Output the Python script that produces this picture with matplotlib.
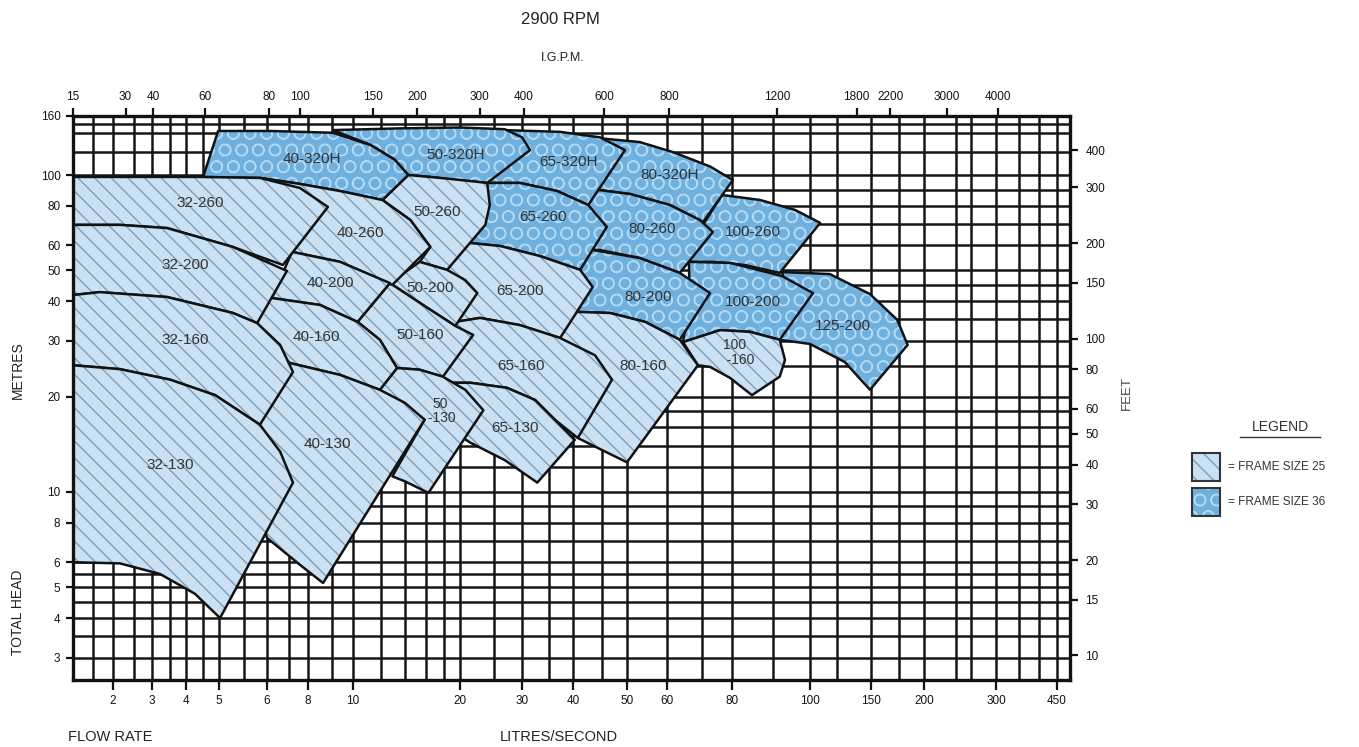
import numpy as np
import matplotlib
matplotlib.use("Agg")
import matplotlib.pyplot as plt
from matplotlib.patches import Polygon, Rectangle
from matplotlib.lines import Line2D

plt.rcParams.update({
    "font.family": ["Liberation Sans", "DejaVu Sans"],
    "hatch.linewidth": 1.0,
})

# ---- pump coverage areas: flow (L/s) and head (m) around each outline ----
P125_200_Q = [92.3, 114, 149, 173, 183, 149, 126, 100, 91.7, 94.4]
P125_200_H = [49.4, 48.7, 42.1, 34.9, 29.1, 21.0, 25.7, 29.3, 30.2, 40.3]
P100_260_Q = [76.5, 86.7, 95.8, 107, 91.7, 83.0, 74.2, 66.1, 69.4]
P100_260_H = [86.5, 83.4, 77.6, 70.6, 49.1, 52.0, 53.2, 53.2, 67.1]
P100_200_Q = [66.1, 79.3, 92.3, 102, 91.7, 84.2, 75.9, 64.4, 66.4]
P100_200_H = [53.2, 52.8, 48.0, 42.4, 30.2, 32.0, 32.4, 29.7, 40.3]
P100_160_Q = [64.4, 75.9, 84.2, 91.7, 93.1, 91.7, 84.7, 79.3, 72.6, 68.8]
P100_160_H = [29.7, 32.4, 32.0, 30.2, 26.1, 23.1, 20.2, 22.9, 24.8, 25.1]
P80_320H_Q = [42.9, 53.0, 61.6, 72.6, 80.2, 70.4, 60.8, 50.7, 44.4]
P80_320H_H = [135, 130, 120, 107, 96.4, 71.1, 80.4, 87.1, 89.7]
P80_260_Q = [44.4, 50.7, 60.8, 69.4, 73.5, 63.5, 53.0, 44.7, 40.3, 40.3]
P80_260_H = [89.7, 87.1, 80.4, 72.1, 66.1, 49.1, 54.7, 58.0, 58.0, 83.4]
P80_200_Q = [43.4, 53.0, 63.5, 72.6, 63.5, 54.3, 46.6, 40.3, 40.3]
P80_200_H = [58.0, 54.7, 49.1, 42.4, 30.2, 34.4, 36.7, 37.0, 53.9]
P80_160_Q = [40.3, 46.6, 54.3, 63.5, 68.8, 50.0, 45.7, 40.8, 37.2, 37.2]
P80_160_H = [37.0, 36.7, 34.4, 30.2, 25.1, 12.4, 13.4, 14.8, 26.1, 34.9]
P65_320H_Q = [26.8, 37.2, 44.7, 49.6, 42.6, 36.6, 29.6, 23.9, 22.8]
P65_320H_H = [143, 141, 135, 122, 80.4, 89.0, 94.4, 94.4, 132]
P65_260_Q = [23.9, 29.6, 36.6, 42.6, 46.0, 41.2, 33.2, 26.0, 21.4, 21.4]
P65_260_H = [94.4, 94.4, 89.0, 80.4, 68.6, 50.2, 55.5, 59.7, 61.0, 83.4]
P65_200_Q = [21.4, 26.0, 33.2, 41.2, 43.4, 37.2, 29.6, 22.8, 19.4, 18.2, 18.8]
P65_200_H = [61.0, 59.7, 55.5, 50.2, 44.3, 30.6, 33.6, 35.4, 34.4, 43.4, 58.0]
P65_160_Q = [19.4, 22.8, 29.6, 37.2, 43.8, 47.0, 40.8, 36.1, 32.3, 27.2, 21.4, 17.6, 17.6]
P65_160_H = [34.4, 35.4, 33.6, 30.6, 27.0, 22.6, 14.8, 16.9, 19.5, 21.3, 22.1, 22.1, 32.4]
P65_130_Q = [18.2, 21.4, 27.2, 32.3, 36.1, 40.3, 32.7, 26.8, 21.4, 18.8]
P65_130_H = [22.1, 22.1, 21.3, 19.5, 16.9, 14.6, 10.7, 12.6, 14.3, 15.7]
P50_320H_Q = [9.05, 13.6, 20.0, 26.8, 30.0, 31.4, 23.9, 19.4, 16.5, 14.3, 13.1, 11.2]
P50_320H_H = [143, 145, 146, 144, 135, 122, 94.4, 96.4, 98.6, 100, 113, 127]
P50_260_Q = [14.3, 17.6, 21.4, 23.9, 24.3, 23.6, 18.4, 15.4, 16.5, 14.5, 12.1]
P50_260_H = [100, 97.9, 95.7, 94.4, 80.4, 69.6, 50.2, 53.2, 59.3, 72.1, 83.4]
P50_200_Q = [12.7, 15.4, 18.4, 20.7, 22.4, 19.4, 15.9]
P50_200_H = [45.6, 53.2, 50.2, 46.6, 42.4, 33.4, 38.6]
P50_160_Q = [12.7, 15.9, 19.4, 21.8, 17.9, 15.4, 13.3, 11.9, 10.3]
P50_160_H = [45.6, 38.6, 33.4, 31.3, 23.1, 24.3, 24.6, 30.2, 34.4]
P50_130_Q = [13.3, 15.4, 17.9, 20.7, 23.3, 16.3, 14.0, 12.9, 15.9, 11.9]
P50_130_H = [24.6, 24.3, 23.1, 21.0, 18.1, 9.93, 10.8, 11.2, 16.9, 21.0]
P40_320H_Q = [4.49, 4.97, 6.13, 9.05, 11.2, 13.1, 14.3, 12.1, 9.38, 7.56, 5.84]
P40_320H_H = [98.6, 142, 142, 140, 127, 113, 100, 83.4, 89.0, 93.7, 97.9]
P40_260_Q = [5.84, 7.56, 9.38, 12.1, 14.5, 16.5, 12.9, 9.38, 7.15]
P40_260_H = [97.9, 93.7, 89.0, 83.4, 72.1, 59.3, 45.0, 53.2, 57.2]
P40_200_Q = [7.15, 9.38, 12.7, 10.3, 8.49, 6.21]
P40_200_H = [57.2, 53.2, 45.6, 34.4, 38.9, 40.9]
P40_160_Q = [6.21, 8.49, 10.3, 11.9, 13.3, 11.9, 9.38, 7.05, 5.73, 5.73]
P40_160_H = [40.9, 38.9, 34.4, 30.2, 24.6, 21.0, 23.4, 25.5, 32.4, 40.3]
P40_130_Q = [7.05, 9.38, 11.9, 14.0, 15.9, 8.62, 7.56, 6.0, 5.42, 5.84]
P40_130_H = [25.5, 23.4, 21.0, 19.1, 16.9, 5.16, 5.89, 7.16, 13.6, 22.6]
P32_260_Q = [1.14, 4.40, 5.84, 7.56, 8.83, 6.71, 5.27, 3.41, 2.15, 1.14]
P32_260_H = [98.6, 98.6, 97.9, 91.0, 79.3, 52.0, 59.3, 68.0, 69.6, 69.6]
P32_200_Q = [1.14, 2.15, 3.41, 5.27, 6.90, 5.78, 5.27, 3.41, 1.66, 1.14]
P32_200_H = [69.6, 69.6, 68.0, 59.3, 49.8, 34.1, 36.7, 41.2, 42.7, 41.8]
P32_160_Q = [1.14, 1.66, 3.41, 5.27, 5.78, 6.58, 7.20, 5.84, 4.87, 3.50, 2.15, 1.14]
P32_160_H = [41.8, 42.7, 41.2, 36.7, 34.1, 29.1, 23.9, 16.3, 20.2, 22.6, 24.4, 25.1]
P32_130_Q = [1.14, 2.15, 3.50, 4.87, 5.84, 6.58, 7.20, 5.02, 4.25, 3.21, 2.15, 1.14]
P32_130_H = [25.1, 24.4, 22.6, 20.2, 16.3, 13.4, 10.7, 4.00, 4.77, 5.51, 5.95, 6.0]

# draw order: right-hand frames first so the left-hand outlines sit on top
PUMPS = [
    ("125-200", 36, P125_200_Q, P125_200_H),
    ("100-260", 36, P100_260_Q, P100_260_H),
    ("100-200", 36, P100_200_Q, P100_200_H),
    ("100-160", 25, P100_160_Q, P100_160_H),
    ("80-320H", 36, P80_320H_Q, P80_320H_H),
    ("80-260", 36, P80_260_Q, P80_260_H),
    ("80-200", 36, P80_200_Q, P80_200_H),
    ("80-160", 25, P80_160_Q, P80_160_H),
    ("65-320H", 36, P65_320H_Q, P65_320H_H),
    ("65-260", 36, P65_260_Q, P65_260_H),
    ("65-200", 25, P65_200_Q, P65_200_H),
    ("65-160", 25, P65_160_Q, P65_160_H),
    ("65-130", 25, P65_130_Q, P65_130_H),
    ("50-320H", 36, P50_320H_Q, P50_320H_H),
    ("50-260", 25, P50_260_Q, P50_260_H),
    ("50-200", 25, P50_200_Q, P50_200_H),
    ("50-160", 25, P50_160_Q, P50_160_H),
    ("50-130", 25, P50_130_Q, P50_130_H),
    ("40-320H", 36, P40_320H_Q, P40_320H_H),
    ("40-260", 25, P40_260_Q, P40_260_H),
    ("40-200", 25, P40_200_Q, P40_200_H),
    ("40-160", 25, P40_160_Q, P40_160_H),
    ("40-130", 25, P40_130_Q, P40_130_H),
    ("32-260", 25, P32_260_Q, P32_260_H),
    ("32-200", 25, P32_200_Q, P32_200_H),
    ("32-160", 25, P32_160_Q, P32_160_H),
    ("32-130", 25, P32_130_Q, P32_130_H),
]

# where each model name is written (flow, head)
LABEL_AT = {
    "40-320H": (8.16, 114), "50-320H": (19.4, 117), "65-320H": (38.9, 111), "80-320H": (60.8, 100),
    "32-260": (4.40, 81.6), "40-260": (10.5, 65.6), "50-260": (17.2, 76.4), "65-260": (33.8, 73.7),
    "80-260": (56.1, 67.6), "100-260": (85.0, 66.1),
    "32-200": (3.96, 52.0), "40-200": (8.92, 45.6), "50-200": (16.5, 44.0), "65-200": (29.6, 43.1),
    "80-200": (55.0, 41.2), "100-200": (85.0, 39.7), "125-200": (124.5, 33.4),
    "32-160": (3.96, 30.2), "40-160": (8.32, 30.8), "50-160": (15.4, 31.3), "65-160": (29.8, 25.0),
    "80-160": (53.8, 25.0), "100-160": (80.7, 27.5),
    "32-130": (3.50, 12.2), "40-130": (8.79, 14.2), "50-130": (17.6, 18.0), "65-130": (28.6, 15.9),
}
LABEL_TEXT = {"100-160": "100\n   -160", "50-130": "50\n -130"}

# axis ticks
FLOW_TICKS = [2, 3, 4, 5, 6, 8, 10, 20, 30, 40, 50, 60, 80, 100, 150, 200, 300, 450]
IGPM_TICKS = [15, 30, 40, 60, 80, 100, 150, 200, 300, 400, 600, 800, 1200, 1800, 2200, 3000, 4000]
METRE_TICKS = [3, 4, 5, 6, 8, 10, 20, 30, 40, 50, 60, 80, 100, 160]
FEET_TICKS = [10, 15, 20, 30, 40, 50, 60, 80, 100, 150, 200, 300, 400]
FLOW_GRID = [1.5, 2, 2.5, 3, 3.5, 4, 4.5, 5, 5.5, 6, 7, 8, 9, 10, 12, 14, 16, 18, 20, 25, 30, 35,
             40, 45, 50, 60, 70, 80, 90, 100, 120, 150, 175, 200, 240, 260, 300, 350, 400, 450]
HEAD_GRID = [3, 3.5, 4, 4.5, 5, 5.5, 6, 7, 8, 9, 10, 12, 14, 16, 18, 20, 25, 30, 35, 40, 45, 50,
             60, 70, 80, 90, 100, 120, 140, 150]
IGPM_PER_LPS = 13.2
FEET_PER_M = 3.281

# ---- the printed chart paper is not a clean log grid: knots of its distortion ----
X_KNOT_LPS = [1.0, 1.14, 2, 3, 4, 5, 6, 8, 10, 20, 30, 40, 50, 60, 80, 100, 150, 200, 300, 450, 490, 600]
X_KNOT_POS = [64, 73, 113, 152, 186, 219, 267, 308, 353, 460, 522, 573, 627, 667, 732, 810, 871, 924,
              996, 1057, 1070, 1100]
Y_KNOT_M = [2.0, 2.55, 100, 160, 200]
Y_KNOT_POS = [-713, -680, -175, -116, -88]
XLIM = (1.14, 490)
YLIM = (2.55, 160)


def x_fwd(q):
    q = np.clip(np.asarray(q, dtype=float), 1e-6, None)
    return np.interp(np.log10(q), np.log10(X_KNOT_LPS), X_KNOT_POS)


def x_inv(p):
    return 10 ** np.interp(np.asarray(p, dtype=float), X_KNOT_POS, np.log10(X_KNOT_LPS))


def y_fwd(m):
    m = np.clip(np.asarray(m, dtype=float), 1e-6, None)
    return np.interp(np.log10(m), np.log10(Y_KNOT_M), Y_KNOT_POS)


def y_inv(p):
    return 10 ** np.interp(np.asarray(p, dtype=float), Y_KNOT_POS, np.log10(Y_KNOT_M))


STYLE = {
    25: dict(face="#cae1f3", hatchc="#7f9cb9", hatch="\\\\"),
    36: dict(face="#6fb0de", hatchc="#b0d9f3", hatch="O"),
}
INK = "#121212"

W, H = 1359, 747
fig = plt.figure(figsize=(W / 100, H / 100), dpi=100)
fig.patch.set_facecolor("white")
ax = fig.add_axes([73 / W, 1 - 680 / H, 997 / W, 564 / H])
ax.set_xscale("function", functions=(x_fwd, x_inv))
ax.set_yscale("function", functions=(y_fwd, y_inv))
ax.set_xlim(*XLIM)
ax.set_ylim(*YLIM)

for v in FLOW_GRID:
    ax.axvline(v, color="#161616", lw=1.8, zorder=1)
for v in HEAD_GRID:
    ax.axhline(v, color="#161616", lw=1.8, zorder=1)

for i, (name, frame, q, h) in enumerate(PUMPS):
    st = STYLE[frame]
    verts = np.column_stack([q, h])
    z = 2 + i * 0.02
    ax.add_patch(Polygon(verts, closed=True, facecolor=st["face"], edgecolor=st["hatchc"],
                         lw=0, hatch=st["hatch"], zorder=z))
    ax.add_patch(Polygon(verts, closed=True, fill=False, edgecolor=INK, lw=1.8,
                         joinstyle="round", zorder=z + 0.01))

for name, (q, h) in LABEL_AT.items():
    two = name in LABEL_TEXT
    ax.text(q, h, LABEL_TEXT.get(name, name), ha="center", va="center",
            fontsize=10 if two else 11, color="#333333", zorder=20, linespacing=1.05)

ax.set_xticks(FLOW_TICKS, labels=[str(t) for t in FLOW_TICKS])
ax.set_xticks([], minor=True)
ax.set_yticks(METRE_TICKS, labels=[str(t) for t in METRE_TICKS])
ax.set_yticks([], minor=True)
ax.tick_params(axis="x", direction="out", length=7, width=1.6, labelsize=8.5, pad=4, colors=INK)
ax.tick_params(axis="y", direction="out", length=5, width=1.6, labelsize=8.5, pad=4, colors=INK)
for sp in ax.spines.values():
    sp.set_linewidth(2.4)
    sp.set_color(INK)
    sp.set_zorder(30)

axt = ax.twiny()
axt.set_xscale("function", functions=(lambda g: x_fwd(np.asarray(g, dtype=float) / IGPM_PER_LPS),
                                      lambda p: x_inv(p) * IGPM_PER_LPS))
axt.set_xlim(XLIM[0] * IGPM_PER_LPS, XLIM[1] * IGPM_PER_LPS)
axt.set_xticks(IGPM_TICKS, labels=[str(t) for t in IGPM_TICKS])
axt.set_xticks([], minor=True)
axt.tick_params(axis="x", direction="out", length=6, width=1.6, labelsize=8.5, pad=3, colors=INK)

axr = ax.twinx()
axr.set_yscale("function", functions=(lambda f: y_fwd(np.asarray(f, dtype=float) / FEET_PER_M),
                                      lambda p: y_inv(p) * FEET_PER_M))
axr.set_ylim(YLIM[0] * FEET_PER_M, YLIM[1] * FEET_PER_M)
axr.set_yticks(FEET_TICKS, labels=[str(t) for t in FEET_TICKS])
axr.set_yticks([], minor=True)
axr.tick_params(axis="y", direction="out", length=6, width=1.6, labelsize=8.5, pad=5, colors=INK)
for a in (axt, axr):
    for sp in a.spines.values():
        sp.set_visible(False)


def fx(px):
    return px / W


def fy(py):
    return 1 - py / H


fig.text(fx(560), fy(20), "2900 RPM", fontsize=12, ha="center", va="center", color="#222222")
fig.text(fx(563), fy(58), "I.G.P.M.", fontsize=9, ha="center", va="center", color="#222222")
fig.text(fx(18), fy(370), "METRES", fontsize=10, rotation=90, ha="center", va="center", color="#222222")
fig.text(fx(18), fy(612), "TOTAL HEAD", fontsize=10, rotation=90, ha="center", va="center", color="#222222")
fig.text(fx(1127), fy(393), "FEET", fontsize=9.5, rotation=90, ha="center", va="center", color="#444444")
fig.text(fx(68), fy(737), "FLOW RATE", fontsize=10.5, ha="left", va="center", color="#222222")
fig.text(fx(500), fy(737), "LITRES/SECOND", fontsize=10.5, ha="left", va="center", color="#222222")

# legend
fig.text(fx(1280), fy(427), "LEGEND", fontsize=10, ha="center", va="center", color="#333333")
fig.add_artist(Line2D([fx(1240), fx(1320)], [fy(437), fy(437)], color="#333333", lw=1.0,
                      transform=fig.transFigure))
for frame, top, text in [(25, 453, "= FRAME SIZE 25"), (36, 488, "= FRAME SIZE 36")]:
    st = STYLE[frame]
    box = (fx(1192), fy(top + 28))
    fig.add_artist(Rectangle(box, 28 / W, 28 / H, transform=fig.transFigure, facecolor=st["face"],
                             edgecolor=st["hatchc"], lw=0, hatch=st["hatch"]))
    fig.add_artist(Rectangle(box, 28 / W, 28 / H, transform=fig.transFigure, fill=False,
                             edgecolor="#333333", lw=1.5))
    fig.text(fx(1228), fy(top + 14), text, fontsize=8.5, ha="left", va="center", color="#333333")

fig.savefig("out.png", dpi=100, facecolor="white")
